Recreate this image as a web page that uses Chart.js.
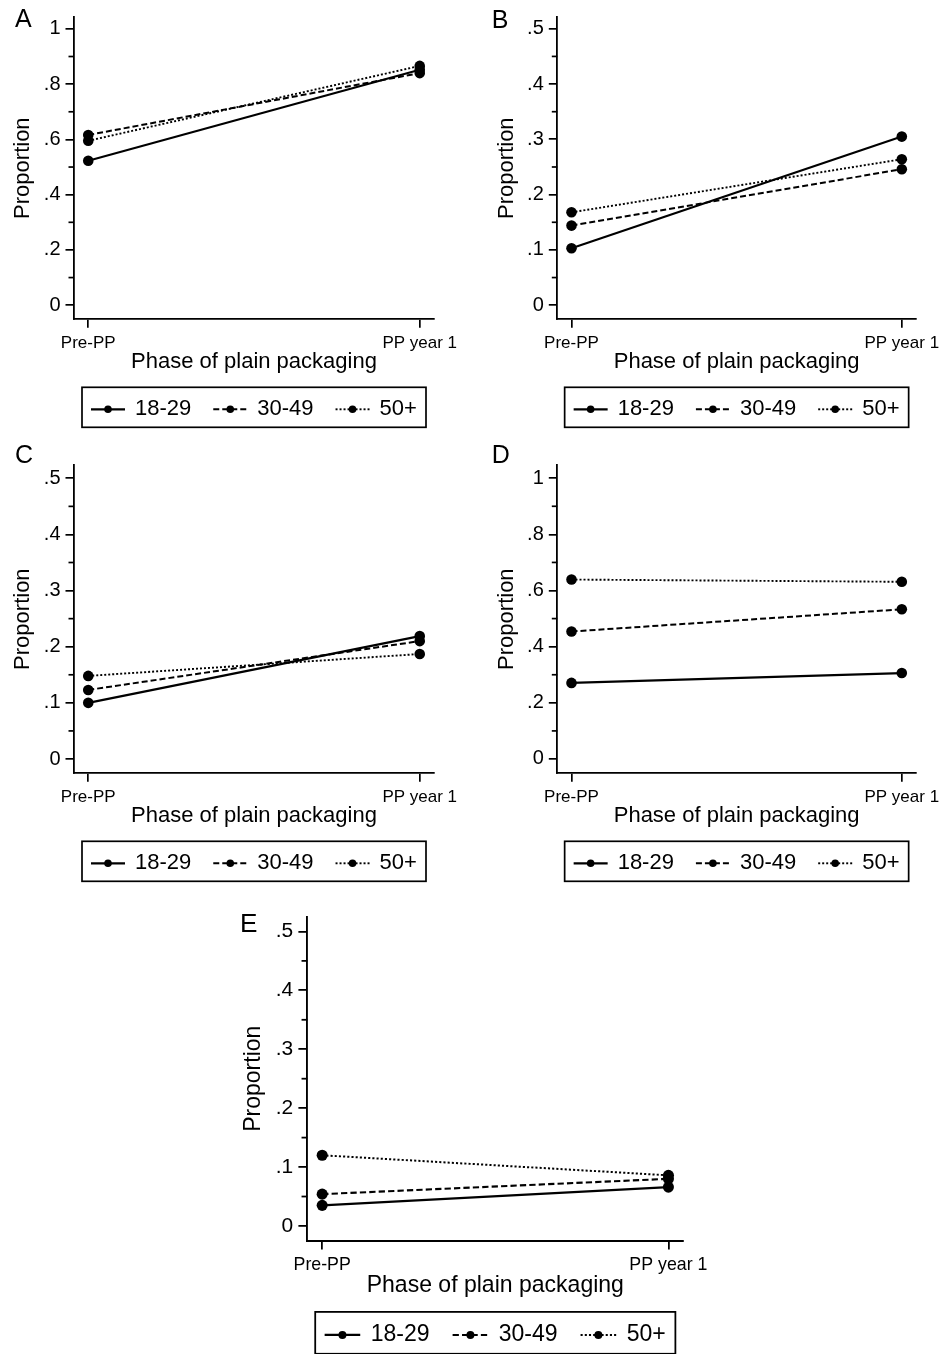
<!DOCTYPE html>
<html><head><meta charset="utf-8">
<script src="https://cdn.jsdelivr.net/npm/chart.js@4/dist/chart.umd.min.js"></script>
<style>
html,body{margin:0;padding:0;background:#fff;width:952px;height:1354px;overflow:hidden;position:relative}
canvas{position:absolute}
</style></head><body>
<canvas id="cA" width="476" height="440" style="left:0px;top:0px"></canvas>
<canvas id="cB" width="476" height="440" style="left:476px;top:0px"></canvas>
<canvas id="cC" width="476" height="450" style="left:0px;top:440px"></canvas>
<canvas id="cD" width="476" height="450" style="left:476px;top:440px"></canvas>
<canvas id="cE" width="520" height="464" style="left:230px;top:890px"></canvas>
<script>
// ---------- data ----------
const phases = ['Pre-PP', 'PP year 1'];
const ageGroups = ['18-29', '30-49', '50+'];

const A_18_29 = [0.523, 0.852];
const A_30_49 = [0.616, 0.840];
const A_50plus = [0.595, 0.866];

const B_18_29 = [0.103, 0.305];
const B_30_49 = [0.144, 0.246];
const B_50plus = [0.168, 0.264];

const C_18_29 = [0.100, 0.219];
const C_30_49 = [0.123, 0.210];
const C_50plus = [0.148, 0.187];

const D_18_29 = [0.271, 0.306];
const D_30_49 = [0.454, 0.533];
const D_50plus = [0.639, 0.631];

const E_18_29 = [0.035, 0.066];
const E_30_49 = [0.054, 0.080];
const E_50plus = [0.120, 0.086];

const fullTickValues = [0, 0.2, 0.4, 0.6, 0.8, 1];
const fullTickLabels = ['0', '.2', '.4', '.6', '.8', '1'];
const fullMinorTicks = [0.1, 0.3, 0.5, 0.7, 0.9];
const halfTickValues = [0, 0.1, 0.2, 0.3, 0.4, 0.5];
const halfTickLabels = ['0', '.1', '.2', '.3', '.4', '.5'];
const halfMinorTicks = [0.05, 0.15, 0.25, 0.35, 0.45];

const xTitle = 'Phase of plain packaging';
const yTitle = 'Proportion';

// ---------- style ----------
const FONT = '"Liberation Sans", Arial, Helvetica, sans-serif';
const lineStyles = [
  {w: 2.2, dash: []},
  {w: 2, dash: [6, 3]},
  {w: 1.9, dash: [2, 2]}
];

const decor = {
  id: 'decor',
  afterDraw(chart, args, o) {
    const ctx = chart.ctx, ca = chart.chartArea, s = o.s;
    ctx.save();
    // minor ticks on y axis
    ctx.strokeStyle = '#000';
    ctx.lineWidth = 1.7 * s;
    const ys = chart.scales.y;
    o.minor.forEach(v => {
      const y = ys.getPixelForValue(v);
      ctx.beginPath();
      ctx.moveTo(ca.left - 5.5 * s, y);
      ctx.lineTo(ca.left, y);
      ctx.stroke();
    });
    // panel letter
    ctx.fillStyle = '#000';
    ctx.font = (25 * s) + 'px ' + FONT;
    ctx.textAlign = 'left';
    ctx.textBaseline = 'alphabetic';
    ctx.fillText(o.letter, o.lx, o.ly);
    // legend box
    const bw = 344 * s, bh = 40 * s;
    const bx = (ca.left + ca.right) / 2 - bw / 2;
    const by = ca.bottom + 68 * s;
    ctx.lineWidth = 1.7 * s;
    ctx.setLineDash([]);
    ctx.strokeRect(bx, by, bw, bh);
    const cy = by + 22 * s;
    let x = bx + 9 * s;
    ctx.font = (22 * s) + 'px ' + FONT;
    ctx.textBaseline = 'middle';
    chart.data.datasets.forEach(ds => {
      ctx.beginPath();
      ctx.setLineDash(ds.borderDash || []);
      ctx.lineWidth = ds.borderWidth;
      ctx.moveTo(x, cy);
      ctx.lineTo(x + 34 * s, cy);
      ctx.stroke();
      ctx.setLineDash([]);
      ctx.beginPath();
      ctx.arc(x + 17 * s, cy, 3.8 * s, 0, Math.PI * 2);
      ctx.fill();
      ctx.fillText(ds.label, x + 44 * s, cy);
      x += 44 * s + ctx.measureText(ds.label).width + 22 * s;
    });
    ctx.restore();
  }
};

function makePanel(id, letter, series, full, g) {
  const s = g.s;
  const W = 66 * s, H = 60 * s;
  const tickVals = full ? fullTickValues : halfTickValues;
  const tickLabs = full ? fullTickLabels : halfTickLabels;
  const minor = full ? fullMinorTicks : halfMinorTicks;
  const datasets = series.map((vals, i) => ({
    label: ageGroups[i],
    data: vals.map((v, j) => ({x: j, y: v})),
    borderColor: '#000',
    backgroundColor: '#000',
    borderWidth: lineStyles[i].w * s,
    borderDash: lineStyles[i].dash.map(d => d * s),
    pointRadius: 5.3 * s,
    pointHoverRadius: 5.3 * s,
    pointBackgroundColor: '#000',
    pointBorderWidth: 0,
    fill: false,
    tension: 0
  }));
  return new Chart(document.getElementById(id), {
    type: 'line',
    data: {datasets},
    options: {
      responsive: false,
      animation: false,
      events: [],
      layout: {padding: {left: g.L - W, top: g.T, right: g.w - g.R, bottom: g.h - g.B - H}},
      plugins: {
        legend: {display: false},
        tooltip: {enabled: false},
        decor: {letter, lx: g.lx, ly: g.ly, minor, s}
      },
      scales: {
        x: {
          type: 'linear', bounds: 'data', min: -0.043, max: 1.043,
          afterBuildTicks: sc => { sc.ticks = phases.map((p, i) => ({value: i})); },
          afterFit: sc => { sc.height = H; },
          ticks: {
            callback: (v, i) => phases[i],
            font: {family: FONT, size: 17 * s}, color: '#000',
            padding: 5 * s, maxRotation: 0, autoSkip: false
          },
          grid: {drawOnChartArea: false, drawTicks: true, tickLength: 8.5 * s, color: '#000', lineWidth: 1.7 * s},
          border: {display: true, color: '#000', width: 1.8 * s},
          title: {display: true, text: xTitle, font: {family: FONT, size: 22 * s}, color: '#000', padding: {top: 0, bottom: 4 * s}}
        },
        y: {
          type: 'linear', bounds: 'data', min: g.ymin, max: g.ymax,
          afterBuildTicks: sc => { sc.ticks = tickVals.map(v => ({value: v})); },
          afterFit: sc => { sc.width = W; },
          ticks: {
            callback: (v, i) => tickLabs[i],
            font: {family: FONT, size: 20 * s}, color: '#000',
            padding: 5 * s, autoSkip: false
          },
          grid: {drawOnChartArea: false, drawTicks: true, tickLength: 8.5 * s, color: '#000', lineWidth: 1.7 * s},
          border: {display: true, color: '#000', width: 1.8 * s},
          title: {display: true, text: yTitle, font: {family: FONT, size: 22 * s}, color: '#000', padding: {top: 2 * s, bottom: 0}}
        }
      }
    },
    plugins: [decor]
  });
}

makePanel('cA', 'A', [A_18_29, A_30_49, A_50plus], true,
  {w: 476, h: 440, L: 74, T: 12, R: 434, B: 319.3, s: 1, ymin: -0.051, ymax: 1.043, lx: 15, ly: 27});
makePanel('cB', 'B', [B_18_29, B_30_49, B_50plus], false,
  {w: 476, h: 440, L: 81.3, T: 12, R: 440, B: 319.3, s: 1, ymin: -0.0255, ymax: 0.5213, lx: 15.7, ly: 28});
makePanel('cC', 'C', [C_18_29, C_30_49, C_50plus], false,
  {w: 476, h: 450, L: 74, T: 25, R: 434, B: 333.3, s: 1, ymin: -0.0255, ymax: 0.5237, lx: 15, ly: 23});
makePanel('cD', 'D', [D_18_29, D_30_49, D_50plus], true,
  {w: 476, h: 450, L: 81.3, T: 25, R: 440, B: 333.3, s: 1, ymin: -0.051, ymax: 1.047, lx: 15.7, ly: 23});
makePanel('cE', 'E', [E_18_29, E_30_49, E_50plus], false,
  {w: 520, h: 464, L: 77.3, T: 26.7, R: 453.3, B: 350.7, s: 1.047, ymin: -0.025, ymax: 0.525, lx: 10, ly: 41.7});
</script>
</body></html>
